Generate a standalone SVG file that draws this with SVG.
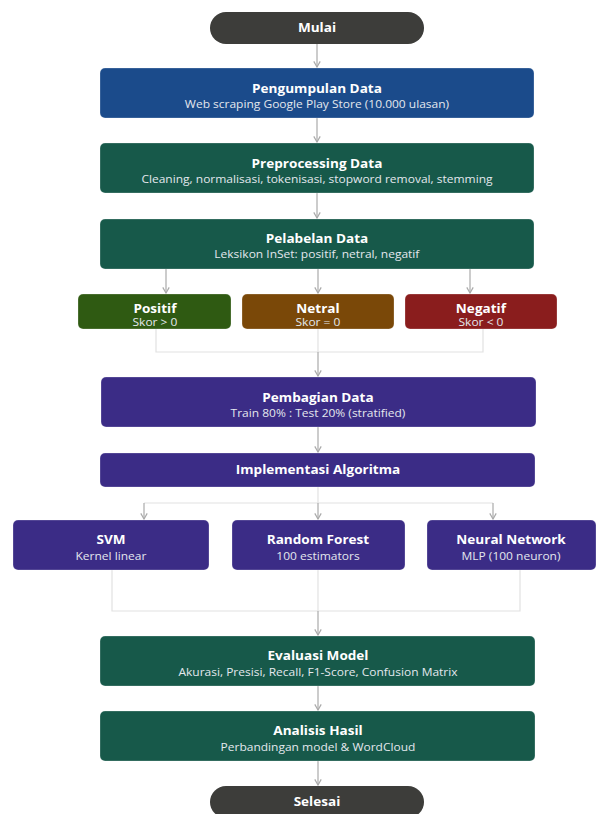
<svg xmlns="http://www.w3.org/2000/svg" width="611" height="814" viewBox="0 0 611 814">
<style>
.t{font-family:"Open Sans","Noto Sans","Liberation Sans",sans-serif;font-weight:700;font-size:12px;fill:#fff;text-anchor:middle;transform-box:fill-box;transform-origin:center;transform:scaleX(1.13)}
.s{font-family:"Open Sans","Noto Sans","Liberation Sans",sans-serif;font-size:10px;fill:#e4e8ee;text-anchor:middle;transform-box:fill-box;transform-origin:center;transform:scaleX(1.2)}
.c{fill:none;stroke:#aaaaaa;stroke-width:1.2}
.m{fill:none;stroke:#e2e2e2;stroke-width:1.2}
.box{stroke:rgba(255,255,255,0.25);stroke-width:1}
</style>
<defs>
<marker id="ar" viewBox="0 0 10 10" refX="8" refY="5" markerWidth="8" markerHeight="8" orient="auto" markerUnits="userSpaceOnUse">
<path d="M1,1 L8,5 L1,9" fill="none" stroke="#aaaaaa" stroke-width="1.5"/>
</marker>
</defs>
<rect width="611" height="814" fill="#ffffff"/>
<g id="connectors">
<line class="c" x1="317" y1="44" x2="317" y2="67" marker-end="url(#ar)"/>
<line class="c" x1="317" y1="118" x2="317" y2="142" marker-end="url(#ar)"/>
<line class="c" x1="317" y1="193" x2="317" y2="218" marker-end="url(#ar)"/>
<line class="c" x1="166" y1="269" x2="166" y2="293" marker-end="url(#ar)"/>
<line class="c" x1="318" y1="269" x2="318" y2="293" marker-end="url(#ar)"/>
<line class="c" x1="470" y1="269" x2="470" y2="293" marker-end="url(#ar)"/>
<polyline class="m" points="156,329 156,352 483,352 483,329"/>
<line class="m" x1="318" y1="329" x2="318" y2="352"/>
<line class="c" x1="318" y1="352" x2="318" y2="376" marker-end="url(#ar)"/>
<line class="c" x1="318" y1="427" x2="318" y2="452" marker-end="url(#ar)"/>
<line class="m" x1="318" y1="487" x2="318" y2="503"/>
<line class="m" x1="144" y1="503" x2="493" y2="503"/>
<line class="c" x1="144" y1="503" x2="144" y2="519" marker-end="url(#ar)"/>
<line class="c" x1="318" y1="503" x2="318" y2="519" marker-end="url(#ar)"/>
<line class="c" x1="493" y1="503" x2="493" y2="519" marker-end="url(#ar)"/>
<polyline class="m" points="112,570 112,611 520,611 520,570"/>
<line class="m" x1="318" y1="570" x2="318" y2="611"/>
<line class="c" x1="318" y1="611" x2="318" y2="635" marker-end="url(#ar)"/>
<line class="c" x1="318" y1="686" x2="318" y2="710" marker-end="url(#ar)"/>
<line class="c" x1="318" y1="761" x2="318" y2="785" marker-end="url(#ar)"/>
</g>
<g id="mulai">
<rect x="210" y="12" width="214" height="32" rx="16" fill="#3d3d3a"/>
<text class="t" x="317" y="32">Mulai</text>
</g>
<g id="pengumpulan">
<rect class="box" x="100" y="68" width="434" height="50" rx="5" fill="#1b4b8b"/>
<text class="t" x="317" y="93">Pengumpulan Data</text>
<text class="s" x="317" y="108">Web scraping Google Play Store (10.000 ulasan)</text>
</g>
<g id="preprocessing">
<rect class="box" x="100" y="143" width="434" height="50" rx="5" fill="#17594a"/>
<text class="t" x="317" y="168">Preprocessing Data</text>
<text class="s" x="317" y="183">Cleaning, normalisasi, tokenisasi, stopword removal, stemming</text>
</g>
<g id="pelabelan">
<rect class="box" x="100" y="219" width="434" height="50" rx="5" fill="#17594a"/>
<text class="t" x="317" y="243">Pelabelan Data</text>
<text class="s" x="317" y="258">Leksikon InSet: positif, netral, negatif</text>
</g>
<g id="positif">
<rect class="box" x="78" y="294" width="153" height="35" rx="5" fill="#2f5a12"/>
<text class="t" x="155" y="313">Positif</text>
<text class="s" x="155" y="326">Skor &gt; 0</text>
</g>
<g id="netral">
<rect class="box" x="242" y="294" width="152" height="35" rx="5" fill="#7a4808"/>
<text class="t" x="318" y="313">Netral</text>
<text class="s" x="318" y="326">Skor = 0</text>
</g>
<g id="negatif">
<rect class="box" x="405" y="294" width="152" height="35" rx="5" fill="#8a1d1d"/>
<text class="t" x="481" y="313">Negatif</text>
<text class="s" x="481" y="326">Skor &lt; 0</text>
</g>
<g id="pembagian">
<rect class="box" x="101" y="377" width="435" height="50" rx="5" fill="#3b2c86"/>
<text class="t" x="318" y="402">Pembagian Data</text>
<text class="s" x="318" y="417">Train 80% : Test 20% (stratified)</text>
</g>
<g id="implementasi">
<rect class="box" x="100" y="453" width="435" height="34" rx="5" fill="#3b2c86"/>
<text class="t" x="318" y="474">Implementasi Algoritma</text>
</g>
<g id="svm">
<rect class="box" x="13" y="520" width="196" height="50" rx="5" fill="#3b2c86"/>
<text class="t" x="111" y="544">SVM</text>
<text class="s" x="111" y="560">Kernel linear</text>
</g>
<g id="rf">
<rect class="box" x="232" y="520" width="173" height="50" rx="5" fill="#3b2c86"/>
<text class="t" x="318" y="544">Random Forest</text>
<text class="s" x="318" y="560">100 estimators</text>
</g>
<g id="nn">
<rect class="box" x="427" y="520" width="169" height="50" rx="5" fill="#3b2c86"/>
<text class="t" x="511" y="544">Neural Network</text>
<text class="s" x="511" y="560">MLP (100 neuron)</text>
</g>
<g id="evaluasi">
<rect class="box" x="100" y="636" width="435" height="50" rx="5" fill="#17594a"/>
<text class="t" x="318" y="660">Evaluasi Model</text>
<text class="s" x="318" y="676">Akurasi, Presisi, Recall, F1-Score, Confusion Matrix</text>
</g>
<g id="analisis">
<rect class="box" x="100" y="711" width="435" height="50" rx="5" fill="#17594a"/>
<text class="t" x="318" y="735">Analisis Hasil</text>
<text class="s" x="318" y="751">Perbandingan model &amp; WordCloud</text>
</g>
<g id="selesai">
<rect x="210" y="786" width="214" height="32" rx="16" fill="#3d3d3a"/>
<text class="t" x="317" y="806">Selesai</text>
</g>
</svg>
